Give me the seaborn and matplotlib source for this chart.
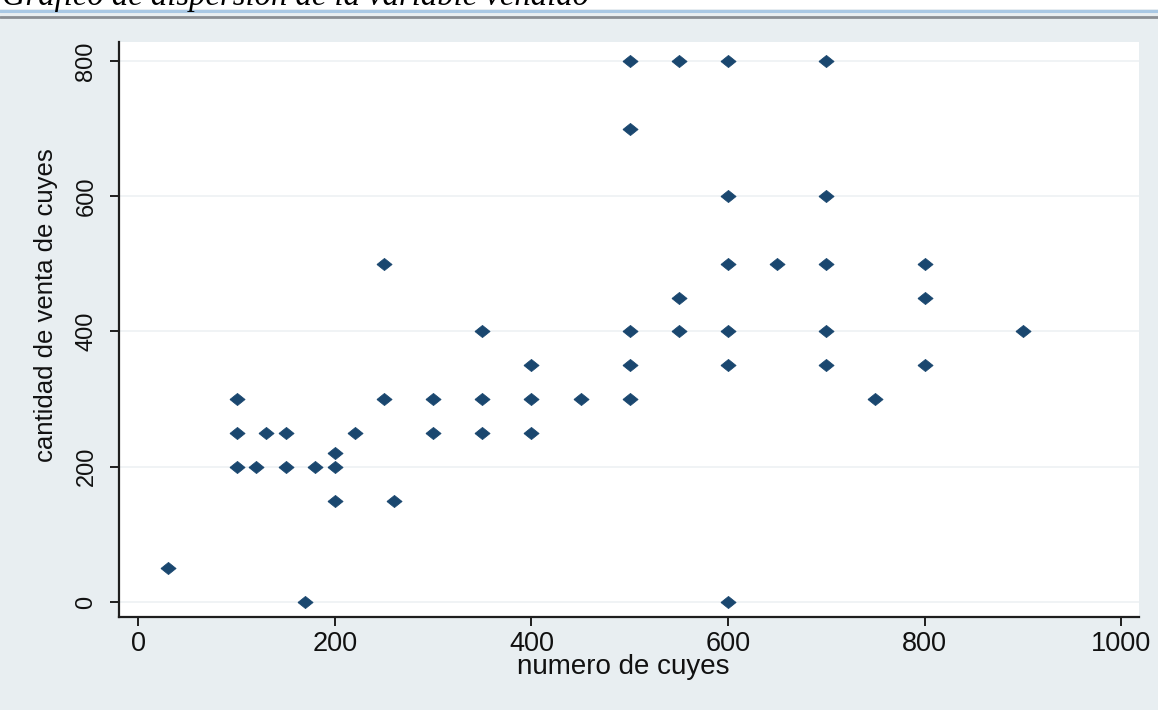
import matplotlib
matplotlib.use("Agg")
import matplotlib.pyplot as plt
import matplotlib.patches as mpatches
import matplotlib.lines as mlines
import seaborn as sns
import pandas as pd

# ---- data ----
numero_cuyes = [500, 550, 600, 700,
                500,
                600, 700,
                250, 600, 650, 700, 800,
                550, 800,
                350, 500, 550, 600, 700, 900,
                400, 500, 600, 700, 800,
                100, 250, 300, 350, 400, 450, 500, 750,
                100, 130, 150, 220, 300, 350, 400,
                200,
                100, 120, 150, 180, 200,
                200, 260,
                30,
                170, 600]
venta_cuyes = [800, 800, 800, 800,
               700,
               600, 600,
               500, 500, 500, 500, 500,
               450, 450,
               400, 400, 400, 400, 400, 400,
               350, 350, 350, 350, 350,
               300, 300, 300, 300, 300, 300, 300, 300,
               250, 250, 250, 250, 250, 250, 250,
               220,
               200, 200, 200, 200, 200,
               150, 150,
               50,
               0, 0]
x_ticks = [0, 200, 400, 600, 800, 1000]
y_ticks = [0, 200, 400, 600, 800]
x_label = "numero de cuyes"
y_label = "cantidad de venta de cuyes"
title_text = "Gráfico de dispersión de la variable vendido"

df = pd.DataFrame({x_label: numero_cuyes, y_label: venta_cuyes})

BG = "#e8eef1"
NAVY = "#1a476f"
AXC = "#1e1e1e"
TXT = "#111111"

sns.set_style("white")
plt.rcParams["font.family"] = ["Liberation Sans", "DejaVu Sans"]

W, H = 1158, 710
fig = plt.figure(figsize=(W / 100, H / 100), dpi=100, facecolor=BG)

# axes placement (pixels -> figure fraction)
left_px, right_px, top_px, bottom_px = 119, 1139, 42, 617
ax = fig.add_axes([left_px / W, (H - bottom_px) / H,
                   (right_px - left_px) / W, (bottom_px - top_px) / H])
ax.set_facecolor("white")

diamond = [(-1.0, 0.0), (0.0, 0.8), (1.0, 0.0), (0.0, -0.8), (-1.0, 0.0)]
sns.scatterplot(data=df, x=x_label, y=y_label, ax=ax, marker=diamond,
                s=118, color=NAVY, edgecolor=NAVY, linewidth=0.6, zorder=3)

ax.set_xlim(-19.8, 1018.3)
ax.set_ylim(-22.2, 828)
ax.set_xticks(x_ticks)
ax.set_yticks(y_ticks)
ax.set_xticklabels([str(v) for v in x_ticks], fontsize=19.5, color=TXT)
ax.set_yticklabels([str(v) for v in y_ticks], fontsize=17, color=TXT,
                   rotation=90, va="center")

ax.grid(axis="y", color="#edf1f3", linewidth=1.2, zorder=0)
ax.grid(axis="x", visible=False)

for s in ["top", "right"]:
    ax.spines[s].set_visible(False)
for s in ["left", "bottom"]:
    ax.spines[s].set_color(AXC)
    ax.spines[s].set_linewidth(1.6)

ax.tick_params(axis="x", direction="out", length=6.5, width=1.4, color=AXC,
               pad=3.5, bottom=True)
ax.tick_params(axis="y", direction="out", length=6.5, width=1.4, color=AXC,
               pad=9, left=True)

ax.set_xlabel(x_label, fontsize=20, color=TXT, labelpad=0)
ax.set_ylabel(y_label, fontsize=18.5, color=TXT)
ax.xaxis.set_label_coords((623.5 - left_px) / (right_px - left_px), -0.065)
ax.yaxis.set_label_coords((58 - left_px) / (right_px - left_px),
                          (bottom_px - 305) / (bottom_px - top_px))

# top strip of the screenshot (page with cut title and window border)
fig.add_artist(mpatches.Rectangle((0, 1 - 9 / H), 1, 9 / H,
                                  transform=fig.transFigure,
                                  facecolor="white", edgecolor="none", zorder=0))
fig.add_artist(mlines.Line2D([0, 1], [1 - 11 / H, 1 - 11 / H],
                             transform=fig.transFigure, color="#a9c8e4",
                             linewidth=2.2))
fig.add_artist(mlines.Line2D([0, 1], [1 - 16.5 / H, 1 - 16.5 / H],
                             transform=fig.transFigure, color="#8a8e93",
                             linewidth=2.0))
fig.text(2 / W, 1 - 5 / H, title_text, fontsize=23.5, style="italic",
         family=["Liberation Serif", "DejaVu Serif"], color="black",
         ha="left", va="baseline")

fig.savefig("out.png", dpi=100, facecolor=BG)
